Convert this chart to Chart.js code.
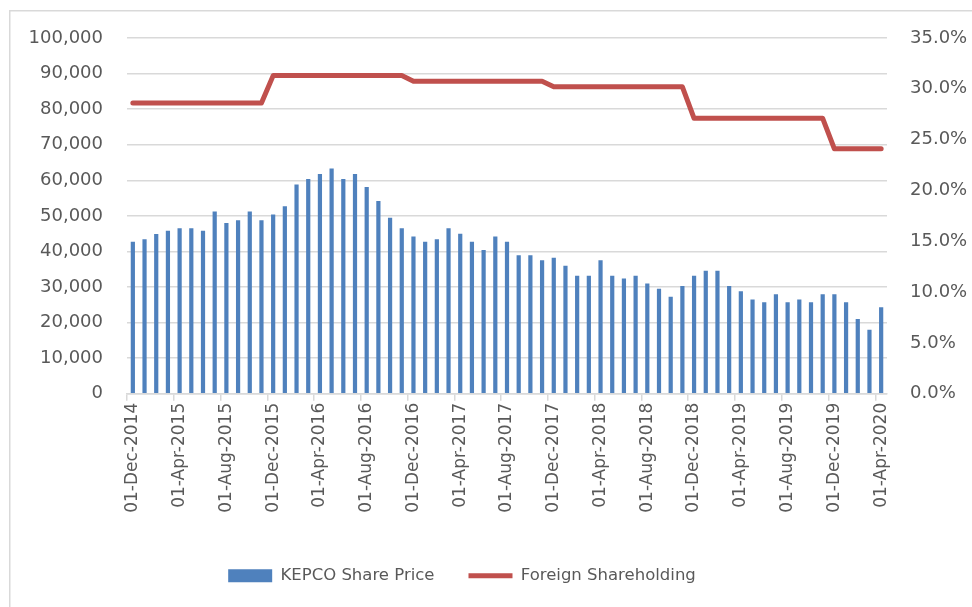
<!DOCTYPE html>
<html>
<head>
<meta charset="utf-8">
<script src="https://cdn.jsdelivr.net/npm/chart.js@4.4.1/dist/chart.umd.min.js"></script>
<style>
  html, body { margin: 0; padding: 0; background: #ffffff; overflow: hidden; }
  canvas { display: block; }
</style>
</head>
<body>
<canvas id="c" width="972" height="607"></canvas>
<script>
const months = [
  "01-Dec-2014","01-Jan-2015","01-Feb-2015","01-Mar-2015","01-Apr-2015","01-May-2015","01-Jun-2015","01-Jul-2015",
  "01-Aug-2015","01-Sep-2015","01-Oct-2015","01-Nov-2015","01-Dec-2015","01-Jan-2016","01-Feb-2016","01-Mar-2016",
  "01-Apr-2016","01-May-2016","01-Jun-2016","01-Jul-2016","01-Aug-2016","01-Sep-2016","01-Oct-2016","01-Nov-2016",
  "01-Dec-2016","01-Jan-2017","01-Feb-2017","01-Mar-2017","01-Apr-2017","01-May-2017","01-Jun-2017","01-Jul-2017",
  "01-Aug-2017","01-Sep-2017","01-Oct-2017","01-Nov-2017","01-Dec-2017","01-Jan-2018","01-Feb-2018","01-Mar-2018",
  "01-Apr-2018","01-May-2018","01-Jun-2018","01-Jul-2018","01-Aug-2018","01-Sep-2018","01-Oct-2018","01-Nov-2018",
  "01-Dec-2018","01-Jan-2019","01-Feb-2019","01-Mar-2019","01-Apr-2019","01-May-2019","01-Jun-2019","01-Jul-2019",
  "01-Aug-2019","01-Sep-2019","01-Oct-2019","01-Nov-2019","01-Dec-2019","01-Jan-2020","01-Feb-2020","01-Mar-2020",
  "01-Apr-2020"
];

const sharePrice = [
  42700, 43400, 44900, 45800, 46500, 46500, 45800, 51200,
  48000, 48800, 51200, 48800, 50400, 52700, 58800, 60400,
  61800, 63300, 60400, 61800, 58100, 54200, 49500, 46500,
  44200, 42700, 43400, 46500, 45000, 42700, 40400, 44200,
  42700, 38900, 38900, 37500, 38200, 36000, 33200, 33200,
  37500, 33200, 32400, 33200, 31000, 29500, 27300, 30300,
  33200, 34600, 34600, 30300, 28800, 26500, 25700, 28000,
  25700, 26500, 25700, 28000, 28000, 25700, 21000, 18000,
  24300
];

const foreignShare = [
  0.286, 0.286, 0.286, 0.286, 0.286, 0.286, 0.286, 0.286,
  0.286, 0.286, 0.286, 0.286, 0.313, 0.313, 0.313, 0.313,
  0.313, 0.313, 0.313, 0.313, 0.313, 0.313, 0.313, 0.313,
  0.3075, 0.3075, 0.3075, 0.3075, 0.3075, 0.3075, 0.3075, 0.3075,
  0.3075, 0.3075, 0.3075, 0.3075, 0.302, 0.302, 0.302, 0.302,
  0.302, 0.302, 0.302, 0.302, 0.302, 0.302, 0.302, 0.302,
  0.271, 0.271, 0.271, 0.271, 0.271, 0.271, 0.271, 0.271,
  0.271, 0.271, 0.271, 0.271, 0.241, 0.241, 0.241, 0.241,
  0.241
];

const seriesNames = ["KEPCO Share Price", "Foreign Shareholding"];

const FONT = "'DejaVu Sans', sans-serif";
const TXT = "#595959";
const GRID = "#d9d9d9";

// shift the legend so that it is centred like the original
const legendShift = {
  id: "legendShift",
  afterLayout(chart) {
    if (chart.legend) {
      chart.legend.left -= 24;
      chart.legend.right -= 24;
    }
  }
};

// outer chart frame (left and top edges visible in the original)
const frame = {
  id: "frame",
  beforeDraw(chart) {
    const ctx = chart.ctx;
    ctx.save();
    ctx.strokeStyle = GRID;
    ctx.lineWidth = 1.5;
    ctx.beginPath();
    ctx.moveTo(9.75, chart.height);
    ctx.lineTo(9.75, 10.75);
    ctx.lineTo(chart.width, 10.75);
    ctx.stroke();
    ctx.restore();
  }
};

new Chart(document.getElementById("c"), {
  data: {
    labels: months,
    datasets: [
      {
        type: "bar",
        label: seriesNames[0],
        data: sharePrice,
        backgroundColor: "#4f81bd",
        borderWidth: 0,
        barPercentage: 0.36,
        categoryPercentage: 1.0,
        yAxisID: "y",
        pointStyle: "rect",
        order: 2
      },
      {
        type: "line",
        label: seriesNames[1],
        data: foreignShare,
        borderColor: "#c0504d",
        backgroundColor: "#c0504d",
        borderWidth: 5,
        borderCapStyle: "round",
        borderJoinStyle: "round",
        pointRadius: 0,
        pointHoverRadius: 0,
        tension: 0,
        yAxisID: "y1",
        pointStyle: "line",
        order: 1
      }
    ]
  },
  plugins: [legendShift, frame],
  options: {
    responsive: false,
    animation: false,
    devicePixelRatio: 1,
    layout: { padding: { top: 38, bottom: 13, left: 0, right: 0 } },
    plugins: {
      tooltip: { enabled: false },
      legend: {
        display: true,
        position: "bottom",
        align: "center",
        labels: {
          usePointStyle: true,
          pointStyleWidth: 44,
          boxHeight: 13,
          padding: 34,
          color: TXT,
          font: { family: FONT, size: 16.5 },
          sort: (a, b) => a.datasetIndex - b.datasetIndex
        }
      }
    },
    scales: {
      x: {
        type: "category",
        offset: true,
        grid: {
          offset: true,
          drawOnChartArea: false,
          drawTicks: true,
          tickLength: 7,
          lineWidth: 1.5,
          color: (ctx) => (ctx.index % 4 === 0 ? GRID : "rgba(0,0,0,0)")
        },
        border: { display: true, color: GRID, width: 1.5 },
        ticks: {
          autoSkip: false,
          minRotation: 90,
          maxRotation: 90,
          padding: 2,
          color: TXT,
          font: { family: FONT, size: 17 },
          callback: function (value, index) {
            return index % 4 === 0 ? this.getLabelForValue(value) : "";
          }
        },
        afterFit: (scale) => { scale.height = 139.75; }
      },
      y: {
        type: "linear",
        position: "left",
        min: 0,
        max: 100000,
        grid: { color: GRID, lineWidth: 1.5, drawTicks: false },
        border: { display: false },
        ticks: {
          stepSize: 10000,
          padding: 24,
          color: TXT,
          font: { family: FONT, size: 18 },
          callback: (v) => v.toLocaleString("en-US")
        },
        afterFit: (scale) => { scale.width = 127; }
      },
      y1: {
        type: "linear",
        position: "right",
        min: 0,
        max: 0.35,
        grid: { display: false, drawTicks: false },
        border: { display: false },
        ticks: {
          stepSize: 0.05,
          padding: 23,
          color: TXT,
          font: { family: FONT, size: 18 },
          callback: (v) => (v * 100).toFixed(1) + "%"
        },
        afterFit: (scale) => { scale.width = 85; }
      }
    }
  }
});
</script>
</body>
</html>
